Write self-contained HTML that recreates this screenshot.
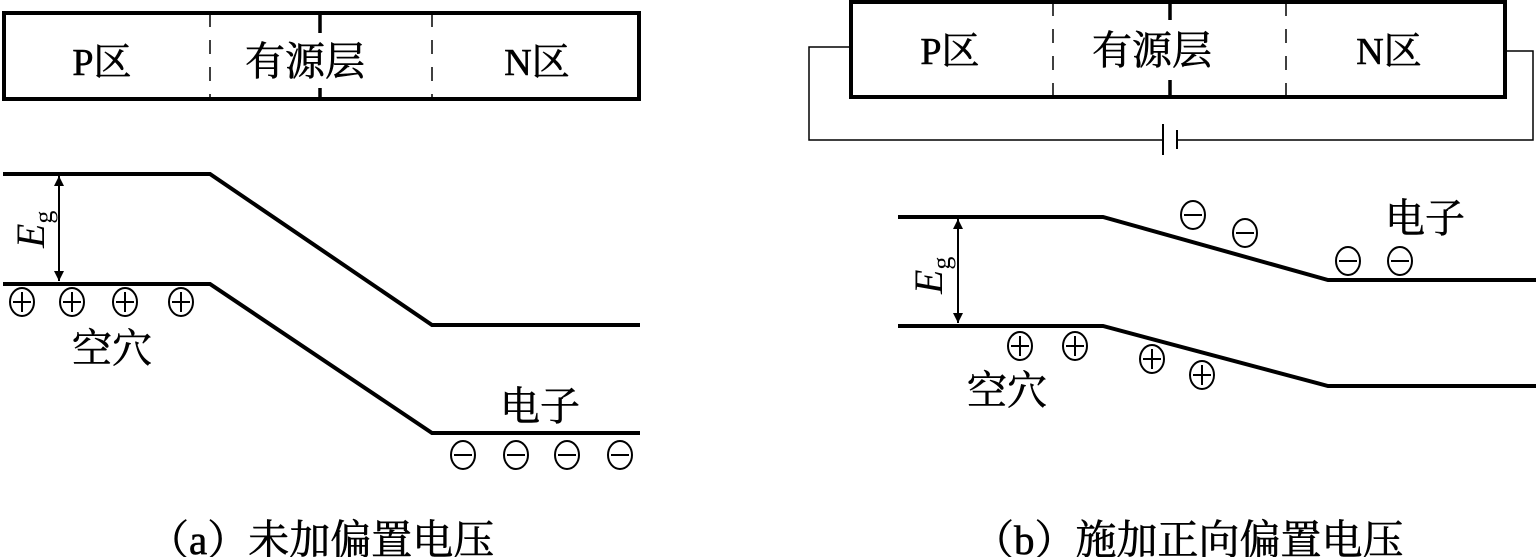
<!DOCTYPE html>
<html><head><meta charset="utf-8"><style>
html,body{margin:0;padding:0;background:#fff;width:1536px;height:557px;overflow:hidden}
text{font-family:"Liberation Serif","Noto Serif CJK SC","Noto Sans CJK SC",serif;fill:#000;stroke:#000;stroke-width:0.6}
text.eg{stroke:none}
</style></head><body>
<svg width="1536" height="557" viewBox="0 0 1536 557" xmlns="http://www.w3.org/2000/svg">
<defs>
<marker id="ah" viewBox="0 0 10 10" refX="10" refY="5" markerWidth="10" markerHeight="18" orient="auto-start-reverse" markerUnits="userSpaceOnUse"><path d="M0,0 L10,5 L0,10 Z" fill="#000"/></marker>
<g id="plus"><ellipse cx="0" cy="0" rx="12" ry="14" fill="none" stroke="#000" stroke-width="2"/><path d="M-9,0H9M0,-10V10" stroke="#000" stroke-width="2"/></g>
<g id="minus"><ellipse cx="0" cy="0" rx="12" ry="14" fill="none" stroke="#000" stroke-width="2"/><path d="M-9,0H9" stroke="#000" stroke-width="2"/></g>
</defs>

<!-- (a) -->
<rect x="4" y="13" width="635" height="86" fill="none" stroke="#000" stroke-width="4"/>
<path d="M210,13V99M432,13V99" stroke="#000" stroke-width="1.5" stroke-dasharray="14,13"/>
<path d="M320,13V33M320,88V99" stroke="#000" stroke-width="3.5"/>
<text x="102" y="75" font-size="38" text-anchor="middle">P区</text>
<text x="305" y="75" font-size="40" text-anchor="middle" stroke-width="1.2">有源层</text>
<text x="537" y="75" font-size="38" text-anchor="middle">N区</text>

<path d="M3,174H210L432,325H640" fill="none" stroke="#000" stroke-width="4"/>
<path d="M3,284H210L432,433H640" fill="none" stroke="#000" stroke-width="4"/>
<line x1="59" y1="176" x2="59" y2="281" stroke="#000" stroke-width="2" marker-start="url(#ah)" marker-end="url(#ah)"/>
<text class="eg" transform="translate(44,248) rotate(-90)" font-size="40" font-style="italic">E<tspan font-size="26" dy="8" font-style="normal">g</tspan></text>
<use href="#plus" x="22" y="302"/><use href="#plus" x="72" y="302"/><use href="#plus" x="125" y="302"/><use href="#plus" x="181" y="302"/>
<text x="72" y="362" font-size="40">空穴</text>
<text x="500" y="420" font-size="40">电子</text>
<use href="#minus" x="463" y="455"/><use href="#minus" x="516" y="455"/><use href="#minus" x="567" y="455"/><use href="#minus" x="620" y="455"/>
<text x="148" y="554" font-size="41">（a）未加偏置电压</text>

<!-- (b) -->
<rect x="851" y="2" width="654" height="95" fill="none" stroke="#000" stroke-width="4"/>
<path d="M1053,2V97M1286,2V97" stroke="#000" stroke-width="1.5" stroke-dasharray="14,13"/>
<path d="M1170,2V20M1170,80V97" stroke="#000" stroke-width="3.5"/>
<text x="950" y="64" font-size="38" text-anchor="middle">P区</text>
<text x="1152" y="64" font-size="40" text-anchor="middle" stroke-width="1.2">有源层</text>
<text x="1389" y="64" font-size="38" text-anchor="middle">N区</text>
<path d="M851,47H809V140H1163M1177,140H1533V51H1505" fill="none" stroke="#000" stroke-width="1.5"/>
<path d="M1163,124V155M1177,130V149" stroke="#000" stroke-width="2"/>

<path d="M898,217H1103L1328,280H1536" fill="none" stroke="#000" stroke-width="4"/>
<path d="M898,326H1103L1328,386H1536" fill="none" stroke="#000" stroke-width="4"/>
<line x1="958" y1="219" x2="958" y2="323" stroke="#000" stroke-width="2" marker-start="url(#ah)" marker-end="url(#ah)"/>
<text class="eg" transform="translate(942,294) rotate(-90)" font-size="40" font-style="italic">E<tspan font-size="26" dy="8" font-style="normal">g</tspan></text>
<use href="#minus" x="1193" y="215"/><use href="#minus" x="1245" y="233"/><use href="#minus" x="1348" y="261"/><use href="#minus" x="1400" y="261"/>
<use href="#plus" x="1020" y="346"/><use href="#plus" x="1075" y="346"/><use href="#plus" x="1152" y="359"/><use href="#plus" x="1202" y="375"/>
<text x="1385" y="232" font-size="40">电子</text>
<text x="967" y="404" font-size="40">空穴</text>
<text x="973" y="554" font-size="41">（b）施加正向偏置电压</text>
</svg>
</body></html>
